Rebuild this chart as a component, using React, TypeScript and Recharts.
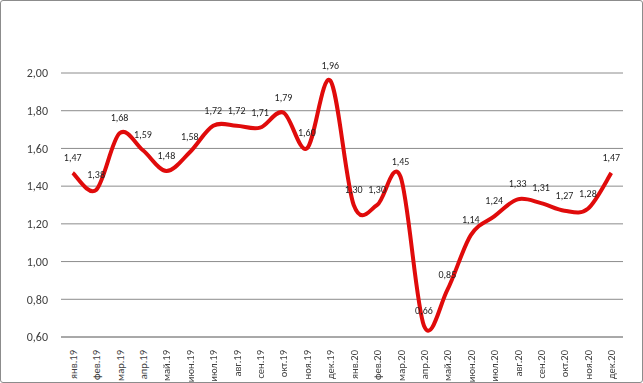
import { CartesianGrid, LabelList, Line, LineChart, XAxis, YAxis } from "recharts";

const months = [
  "янв.19", "фев.19", "мар.19", "апр.19", "май.19", "июн.19", "июл.19", "авг.19",
  "сен.19", "окт.19", "ноя.19", "дек.19", "янв.20", "фев.20", "мар.20", "апр.20",
  "май.20", "июн.20", "июл.20", "авг.20", "сен.20", "окт.20", "ноя.20", "дек.20"
];

const values = [
  1.47, 1.38, 1.68, 1.59, 1.48, 1.58, 1.72, 1.72, 1.71, 1.79, 1.6, 1.96,
  1.3, 1.3, 1.45, 0.66, 0.85, 1.14, 1.24, 1.33, 1.31, 1.27, 1.28, 1.47
];

const yTicks = [0.6, 0.8, 1.0, 1.2, 1.4, 1.6, 1.8, 2.0];

const data = months.map((m, i) => ({ month: m, value: values[i] }));

const fmt = (v: number) => v.toFixed(2).replace(".", ",");

const font = "Calibri, Carlito, 'Liberation Sans', sans-serif";

// Excel-like smoothed line (Catmull-Rom style bezier)
function smoothCurve(ctx: any) {
  let pts: number[][] = [];
  return {
    areaStart() {},
    areaEnd() {},
    lineStart() {
      pts = [];
    },
    point(x: number, y: number) {
      pts.push([+x, +y]);
    },
    lineEnd() {
      if (!pts.length) return;
      ctx.moveTo(pts[0][0], pts[0][1]);
      for (let i = 0; i < pts.length - 1; i++) {
        const p0 = pts[i - 1] || pts[i];
        const p1 = pts[i];
        const p2 = pts[i + 1];
        const p3 = pts[i + 2] || p2;
        ctx.bezierCurveTo(
          p1[0] + (p2[0] - p0[0]) / 6,
          p1[1] + (p2[1] - p0[1]) / 6,
          p2[0] - (p3[0] - p1[0]) / 6,
          p2[1] - (p3[1] - p1[1]) / 6,
          p2[0],
          p2[1]
        );
      }
    }
  };
}

function MonthTick({ x, y, payload }: any) {
  return (
    <text
      transform={`translate(${x + 4},${y + 5}) rotate(-90)`}
      textAnchor="end"
      fontSize={10.5}
      fontFamily={font}
      fill="#404040"
    >
      {payload.value}
    </text>
  );
}

export default function App() {
  return (
    <div
      style={{
        position: "fixed",
        left: 0,
        top: 0,
        width: 643,
        height: 383,
        boxSizing: "border-box",
        border: "1px solid #8c8c8c",
        borderRadius: 3,
        background: "#fff",
        overflow: "hidden"
      }}
    >
      <LineChart
        width={643}
        height={383}
        data={data}
        margin={{ top: 73, right: 20, left: 6, bottom: 0 }}
        style={{ position: "absolute", left: -1, top: -1 }}
      >
        <CartesianGrid stroke="#8c8c8c" vertical={false} />
        <XAxis
          dataKey="month"
          interval={0}
          height={46}
          padding={{ left: 11.7, right: 11.7 }}
          axisLine={{ stroke: "#8c8c8c" }}
          tickLine={false}
          tick={<MonthTick />}
        />
        <YAxis
          width={55}
          domain={[0.6, 2.0]}
          ticks={yTicks}
          tickFormatter={fmt}
          axisLine={false}
          tickLine={false}
          tickSize={0}
          tickMargin={13}
          tick={{ fill: "#404040", fontSize: 12, fontFamily: font }}
        />
        <Line
          type={smoothCurve as any}
          dataKey="value"
          stroke="#e00b0b"
          strokeWidth={4}
          dot={false}
          isAnimationActive={false}
        >
          <LabelList
            dataKey="value"
            position="top"
            offset={12}
            formatter={(v: any) => fmt(Number(v))}
            style={{ fontSize: 10, fontFamily: font, fill: "#262626" }}
          />
        </Line>
      </LineChart>
    </div>
  );
}
